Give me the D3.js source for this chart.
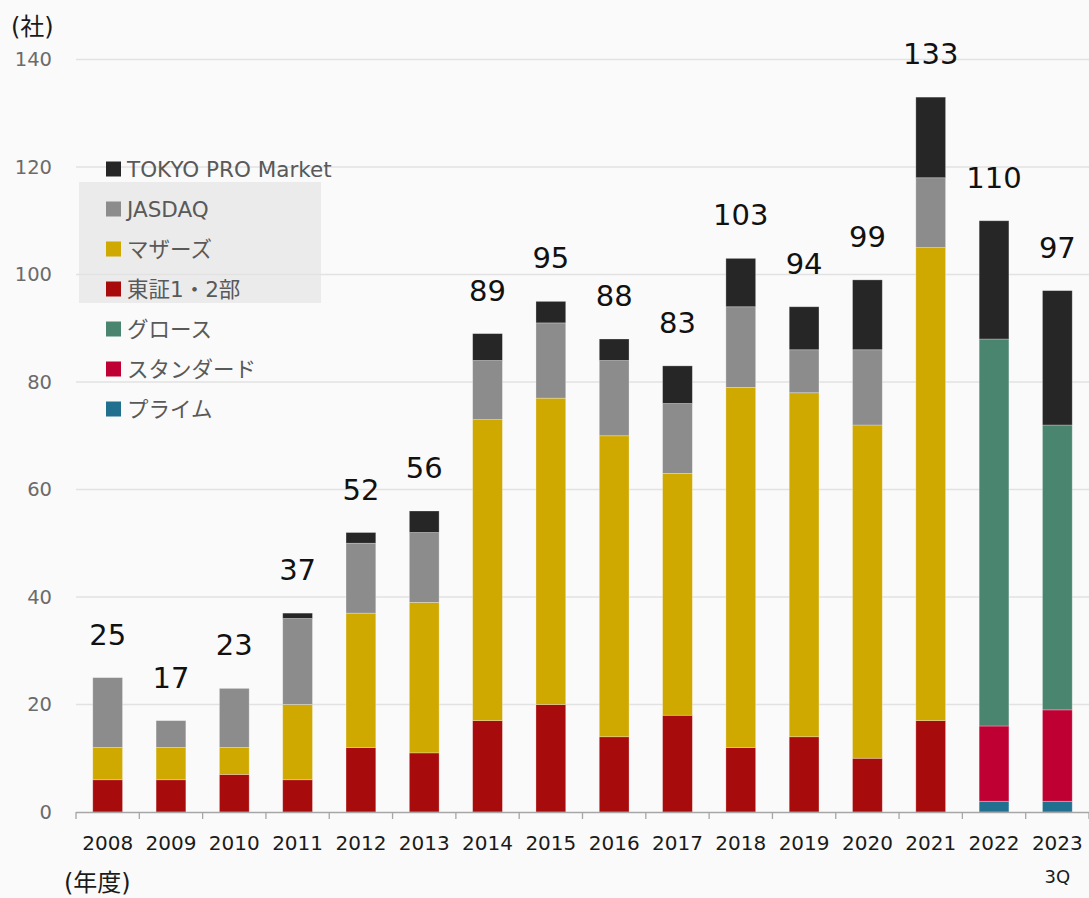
<!DOCTYPE html>
<html><head><meta charset="utf-8">
<script src="https://cdn.jsdelivr.net/npm/d3@7/dist/d3.min.js"></script>
<style>
html,body{margin:0;padding:0;background:#fafafa;}
svg{display:block;font-family:"DejaVu Sans","Noto Sans CJK JP",sans-serif;}
</style></head><body>
<svg id="chart" width="1089" height="898"></svg>
<script>
const years = ["2008","2009","2010","2011","2012","2013","2014","2015","2016","2017","2018","2019","2020","2021","2022","2023"];
const seriesNames = ["プライム","スタンダード","グロース","東証1・2部","マザーズ","JASDAQ","TOKYO PRO Market"];
const prime    = [0,0,0,0,0,0,0,0,0,0,0,0,0,0,2,2];
const standard = [0,0,0,0,0,0,0,0,0,0,0,0,0,0,14,17];
const growth   = [0,0,0,0,0,0,0,0,0,0,0,0,0,0,72,53];
const tse12    = [6,6,7,6,12,11,17,20,14,18,12,14,10,17,0,0];
const mothers  = [6,6,5,14,25,28,56,57,56,45,67,64,62,88,0,0];
const jasdaq   = [13,5,11,16,13,13,11,14,14,13,15,8,14,13,0,0];
const pro      = [0,0,0,1,2,4,5,4,4,7,9,8,13,15,22,25];
const colors = ["#21708f","#bf0033","#4a8570","#a80b0b","#cfa800","#8c8c8c","#262626"];
const yTicks = [0,20,40,60,80,100,120,140];

const seriesValues = [prime,standard,growth,tse12,mothers,jasdaq,pro];
const rows = years.map((y,i)=>{const r={year:y}; seriesNames.forEach((s,k)=>r[s]=seriesValues[k][i]); return r;});
const stacked = d3.stack().keys(seriesNames)(rows);
const totals = rows.map(r=>d3.sum(seriesNames,k=>r[k]));

const svg = d3.select("#chart");
const x0 = 76, x1 = 1089;
const x = d3.scaleBand().domain(years).range([x0,x1]).paddingInner(0.53).paddingOuter(0.265);
const y = d3.scaleLinear().domain([0,140]).range([812,59.5]);

// legend highlight box
svg.append("rect").attr("x",79).attr("y",182).attr("width",242).attr("height",121).attr("fill","#ebebeb");

// gridlines
svg.append("g").selectAll("line").data(yTicks.filter(t=>t>0)).join("line")
  .attr("x1",x0).attr("x2",x1).attr("y1",d=>y(d)).attr("y2",d=>y(d))
  .attr("stroke","#e2e2e2").attr("stroke-width",1.3);

// y labels
svg.append("g").selectAll("text").data(yTicks).join("text")
  .attr("x",52).attr("y",d=>y(d)).attr("dy","0.35em").attr("text-anchor","end")
  .attr("font-size",19.5).attr("fill","#6b6b6b").text(d=>d);

// bars
svg.append("g").selectAll("g").data(stacked).join("g")
  .attr("fill",(d,i)=>colors[i])
  .selectAll("rect").data(d=>d).join("rect")
  .attr("x",d=>x(d.data.year)).attr("width",x.bandwidth())
  .attr("y",d=>y(d[1])).attr("height",d=>y(d[0])-y(d[1]))
  .attr("stroke","#ffffff").attr("stroke-opacity",0.35).attr("stroke-width",0.8);

// x axis
const step = x.step();
svg.append("line").attr("x1",x0).attr("x2",x1).attr("y1",812.5).attr("y2",812.5).attr("stroke","#a6a6a6").attr("stroke-width",1.3);
svg.append("g").selectAll("line").data(d3.range(years.length+1)).join("line")
  .attr("x1",i=>x0+i*step).attr("x2",i=>x0+i*step).attr("y1",812).attr("y2",819)
  .attr("stroke","#a6a6a6").attr("stroke-width",1.3);
svg.append("g").selectAll("text").data(years).join("text")
  .attr("x",d=>x(d)+x.bandwidth()/2).attr("y",850).attr("text-anchor","middle")
  .attr("font-size",20).attr("fill","#1a1a1a").text(d=>d);
svg.append("text").attr("x",x("2023")+x.bandwidth()/2).attr("y",883).attr("text-anchor","middle")
  .attr("font-size",18).attr("fill","#1a1a1a").text("3Q");

// totals
svg.append("g").selectAll("text").data(years).join("text")
  .attr("x",d=>x(d)+x.bandwidth()/2).attr("y",(d,i)=>y(totals[i])-33).attr("text-anchor","middle")
  .attr("font-size",29).attr("fill","#111").text((d,i)=>totals[i]);

// axis titles
svg.append("text").attr("x",11).attr("y",35).attr("font-size",24).attr("fill","#1a1a1a").text("(社)");
svg.append("text").attr("x",64).attr("y",891).attr("font-size",24).attr("fill","#1a1a1a").text("(年度)");

// legend
const legendOrder = ["TOKYO PRO Market","JASDAQ","マザーズ","東証1・2部","グロース","スタンダード","プライム"];
const lg = svg.append("g").selectAll("g").data(legendOrder).join("g")
  .attr("transform",(d,i)=>`translate(106,${169+i*40})`);
lg.append("rect").attr("x",0).attr("y",-7.5).attr("width",15).attr("height",15)
  .attr("fill",d=>colors[seriesNames.indexOf(d)]);
lg.append("text").attr("x",21).attr("y",0).attr("dy","0.36em").attr("font-size",21.5).attr("fill","#595959").text(d=>d);
</script>
</body></html>
